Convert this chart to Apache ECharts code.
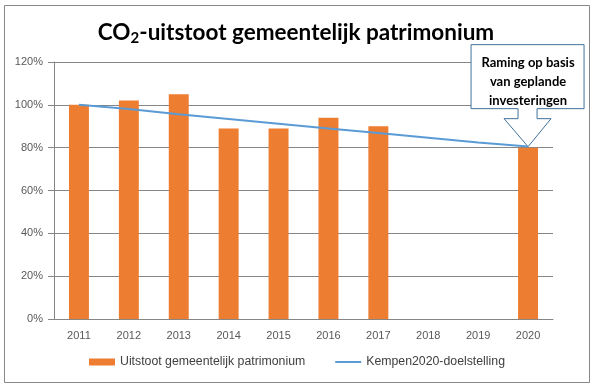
<!DOCTYPE html>
<html><head><meta charset="utf-8">
<script src="https://cdn.jsdelivr.net/npm/echarts@6/dist/echarts.min.js"></script>
<style>html,body{margin:0;padding:0;background:#fff}#c{width:592px;height:390px}</style>
</head><body><div id="c"></div>
<script>
var years = ['2011','2012','2013','2014','2015','2016','2017','2018','2019','2020'];
var uitstoot = [100, 102, 105, 89, 89, 94, 90, null, null, 80];
var doelstelling = [100, 98, 95.6, 93.4, 91.2, 89, 86.8, 84.6, 82.4, 80.5];
var yTicks = [0, 20, 40, 60, 80, 100, 120];
var barName = 'Uitstoot gemeentelijk patrimonium';
var lineName = 'Kempen2020-doelstelling';
var calloutLines = ['Raming op basis', 'van geplande', 'investeringen'];

var chart = echarts.init(document.getElementById('c'));
var option = {
  animation: false,
  title: {
    text: 'CO{sub|2}-uitstoot gemeentelijk patrimonium',
    left: 'center', top: 15,
    textStyle: {
      fontFamily: 'Lato', fontWeight: 'bold', fontSize: 22.5, color: '#000',
      rich: { sub: { fontFamily: 'Lato', fontWeight: 'bold', fontSize: 15, color: '#000', verticalAlign: 'bottom', padding: [11,0,0,0] } }
    }
  },
  grid: { left: 54, right: 39, top: 62, bottom: 71 },
  legend: {
    bottom: 17, left: 84, itemGap: 30, itemWidth: 26, itemHeight: 7,
    textStyle: { fontFamily: 'Liberation Sans', fontSize: 12.3, color: '#404040' },
    data: [
      { name: barName, icon: 'rect' },
      { name: lineName, icon: 'path://M0,0 M0,2.5 L26,2.5 L26,4.5 L0,4.5 Z M26,7', itemStyle: { borderWidth: 0 } }
    ]
  },
  xAxis: {
    type: 'category', data: years,
    axisLine: { lineStyle: { color: '#868686' } },
    axisTick: { length: 5, lineStyle: { color: '#868686' } },
    axisLabel: { fontFamily: 'Liberation Sans', fontSize: 11, color: '#595959', margin: 11 }
  },
  yAxis: {
    type: 'value', min: 0, max: 120, interval: 20,
    axisLine: { show: true, lineStyle: { color: '#868686' } },
    axisTick: { show: true, length: 6, lineStyle: { color: '#868686' } },
    splitLine: { lineStyle: { color: '#868686' } },
    axisLabel: { fontFamily: 'Liberation Sans', fontSize: 11, color: '#595959', margin: 11,
      formatter: function (v) { return v + '%'; } }
  },
  series: [
    { name: barName, type: 'bar', data: uitstoot, barWidth: '40%', itemStyle: { color: '#ED7D31' } },
    { name: lineName, type: 'line', data: doelstelling, symbol: 'none', lineStyle: { color: '#5B9BD5', width: 2 }, itemStyle: { color: '#5B9BD5' } }
  ]
};
chart.setOption(option);

var tip = chart.convertToPixel({ xAxisIndex: 0, yAxisIndex: 0 }, [years[9], uitstoot[9]]);
var tx = tip[0], ty = tip[1] - 1;
var L = tx - 57, R = tx + 56, T = ty - 102, B = ty - 38, W = ty - 28;
var n1 = tx - 10, n2 = tx + 9, w1 = tx - 24, w2 = tx + 23;
var pts = [[L,T],[R,T],[R,B],[n2,B],[n2,W],[w2,W],[tx,ty],[w1,W],[n1,W],[n1,B],[L,B]];
var graphics = [
  { type: 'rect', shape: { x: 4.5, y: 5.5, width: 585, height: 377 }, style: { fill: null, stroke: '#888', lineWidth: 1 }, silent: true },
  { type: 'polygon', shape: { points: pts }, style: { fill: '#fff', stroke: '#41719C', lineWidth: 1 }, z: 100 }
];
calloutLines.forEach(function (s, i) {
  graphics.push({ type: 'text', x: tx, y: ty - 84 + i * 19, z: 101,
    style: { text: s, fontFamily: 'Lato', fontWeight: 'bold', fontSize: 13, fill: '#000', align: 'center', verticalAlign: 'middle' } });
});
chart.setOption({ graphic: graphics });
</script></body></html>
